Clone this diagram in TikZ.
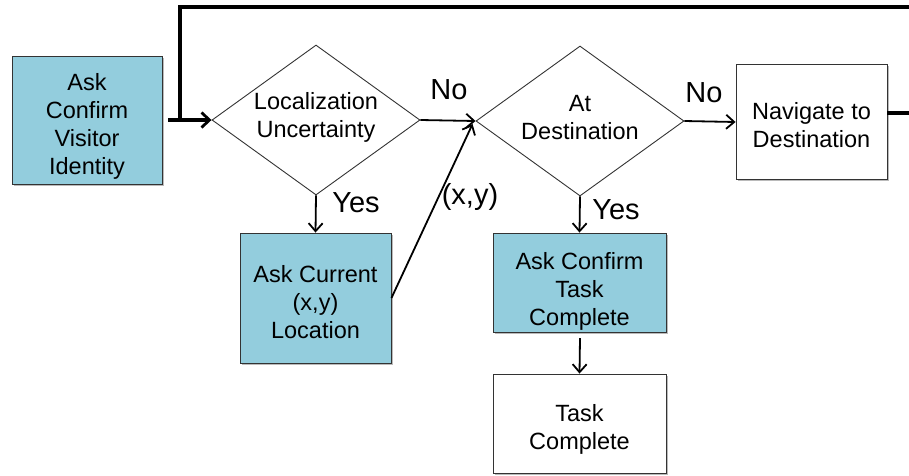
\documentclass[tikz,border=0pt]{standalone}
\usepackage{fontspec}
\setmainfont{Liberation Sans}
\usetikzlibrary{shapes.geometric,arrows.meta,shadows}
\definecolor{boxblue}{HTML}{93CDDD}
\definecolor{edge}{HTML}{333333}
\begin{document}
\begin{tikzpicture}[x=1pt,y=-1pt,
  box/.style={draw=edge,line width=0.9pt,inner sep=0pt,
    drop shadow={shadow xshift=1.5pt,shadow yshift=-1.5pt,fill=black!45,opacity=0.6}},
  bluebox/.style={box,fill=boxblue},
  whitebox/.style={box,fill=white},
  txt/.style={align=center,inner sep=0pt,font=\fontsize{23.5}{28}\selectfont},
  dec/.style={draw=edge,line width=0.9pt,shape=diamond,inner sep=0pt,
    minimum width=208pt,minimum height=150pt,aspect=1.387},
  conn/.style={line width=1.8pt,-{Straight Barb[length=8pt,width=14pt,line width=1.8pt]}},
  thick conn/.style={line width=3.4pt,-{Straight Barb[length=8pt,width=15pt,line width=2.8pt]}},
  lbl/.style={font=\fontsize{29}{32}\selectfont,inner sep=0pt}]
\useasboundingbox (0,0) rectangle (909,475);

\node[bluebox,minimum width=150pt,minimum height=128pt] (ident) at (87,120) {};
\node[txt] (identT) at (87,126) {Ask\\Confirm\\Visitor\\Identity};
\node[dec] (loc) at (316,120) {};
\node[txt] (locT) at (316,117) {Localization\\Uncertainty};
\node[dec] (dest) at (580,121) {};
\node[txt] (destT) at (580,118) {At\\Destination};
\node[whitebox,minimum width=151pt,minimum height=115pt] (nav) at (811.5,122) {};
\node[txt] (navT) at (811.5,125) {Navigate to\\Destination};
\node[bluebox,minimum width=151pt,minimum height=130pt] (cur) at (315.5,298) {};
\node[txt] (curT) at (315.5,302) {Ask Current\\(x,y)\\Location};
\node[bluebox,minimum width=173pt,minimum height=99pt] (conf) at (579.5,282.5) {};
\node[txt] (confT) at (579.5,291) {Ask Confirm\\Task\\Complete};
\node[whitebox,minimum width=173pt,minimum height=99pt] (done) at (579.5,423.5) {};
\node[txt] (doneT) at (579.5,429) {Task\\Complete};

\coordinate (navout) at (887,113);
\coordinate (rtop) at (914,113);
\coordinate (rcorner) at (914,7);
\coordinate (ltop) at (180,7);
\coordinate (join) at (180,120);
\coordinate (identout) at (168,120);

\draw[line width=3.4pt,line join=miter] (navout) -- (rtop) -- (rcorner) -- (ltop) -- (join);
\draw[thick conn] (identout) -- (loc.west);

\draw[conn] (loc.east) -- (dest.west);
\draw[conn] (loc.south) -- (cur.north);
\draw[conn] (cur.east) -- ([xshift=-3pt,yshift=-3pt]dest.west);
\draw[conn] (dest.east) -- (nav.west);
\draw[conn] (dest.south) -- (conf.north);
\coordinate (confout) at (580,338);
\draw[conn] (confout) -- (done.north);

\node[lbl] (no1) at (449,90) {No};
\node[lbl] (no2) at (704,93) {No};
\node[lbl] (yes1) at (356,203) {Yes};
\node[lbl] (yes2) at (616,210) {Yes};
\node[lbl] (xy) at (470,197) {(x,y)};
\end{tikzpicture}
\end{document}
